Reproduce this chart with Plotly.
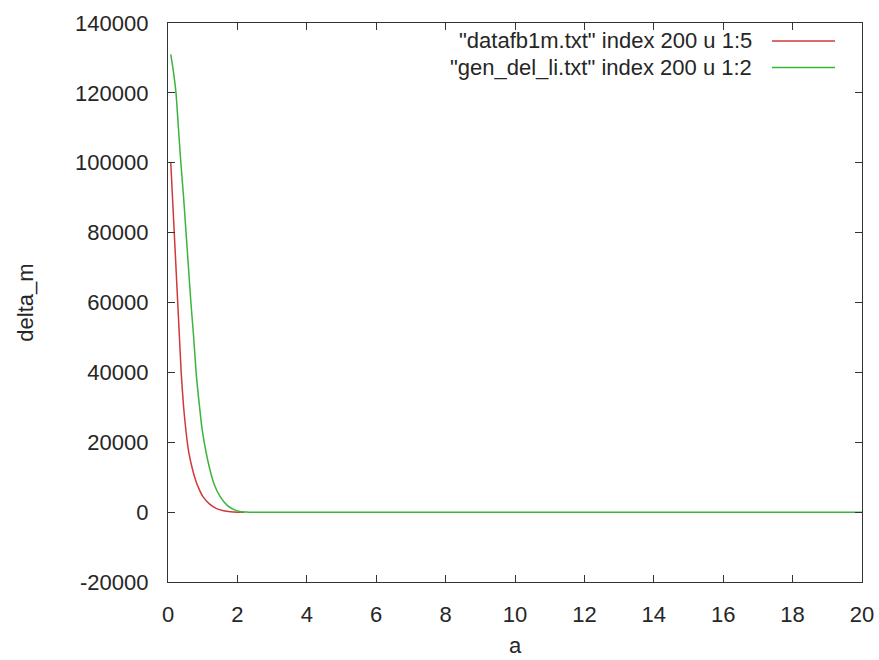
import plotly.graph_objects as go

# Series 1: "datafb1m.txt" index 200 u 1:5
red_x = [0.08, 0.12, 0.18, 0.23, 0.28, 0.33, 0.38, 0.45, 0.52, 0.60, 0.70, 0.80, 0.90, 1.00, 1.20, 1.40, 1.60, 1.80, 2.00, 2.20]
red_y = [100000, 92000, 80000, 70000, 60000, 50000, 40000, 30000, 23000, 17000, 12500, 9000, 6500, 4500, 2300, 1000, 400, 100, 0, 0]

# Series 2: "gen_del_li.txt" index 200 u 1:2
green_x = [0.08, 0.15, 0.23, 0.30, 0.37, 0.45, 0.52, 0.59, 0.66, 0.74, 0.81, 0.90, 0.98, 1.08, 1.20, 1.33, 1.50, 1.70, 1.90, 2.10, 2.30, 20.0]
green_y = [131000, 126500, 120000, 110000, 100000, 90000, 80000, 70000, 60000, 50000, 40000, 31000, 24000, 18000, 12500, 8000, 4500, 2000, 700, 100, 0, 0]

names = ['"datafb1m.txt" index 200 u 1:5', '"gen_del_li.txt" index 200 u 1:2']
colors = ["#d03a3a", "#3cb43c"]

x_ticks = list(range(0, 21, 2))
x_ticklabels = [str(v) for v in x_ticks]
y_ticks = list(range(-20000, 140001, 20000))
y_ticklabels = [str(v) for v in y_ticks]

FONT = "Liberation Sans"
TXT = "#262626"
FS = 22

fig = go.Figure()
fig.add_trace(go.Scatter(x=red_x, y=red_y, mode="lines", name=names[0],
                         line=dict(color=colors[0], width=1.5, shape="spline", smoothing=0.6)))
fig.add_trace(go.Scatter(x=green_x, y=green_y, mode="lines", name=names[1],
                         line=dict(color=colors[1], width=1.5, shape="spline", smoothing=0.6)))

axis_common = dict(showline=True, linecolor="#333333", linewidth=1.2, mirror="ticks",
                   ticks="inside", ticklen=7, tickcolor="#333333", tickwidth=1,
                   showgrid=False, zeroline=False, automargin=False,
                   tickfont=dict(family=FONT, size=FS, color=TXT))

fig.update_layout(
    width=879, height=660,
    margin=dict(l=168, r=17, t=23, b=78),
    paper_bgcolor="white", plot_bgcolor="white",
    showlegend=False,
    xaxis=dict(range=[0, 20], tickvals=x_ticks, ticktext=x_ticklabels, ticklabelstandoff=12,
               title=dict(text="a", font=dict(family=FONT, size=FS, color=TXT), standoff=12),
               **axis_common),
    yaxis=dict(range=[-20000, 140000], tickvals=y_ticks, ticktext=y_ticklabels, ticklabelstandoff=14,
               title=dict(text="delta_m", font=dict(family=FONT, size=FS, color=TXT), standoff=35),
               **axis_common),
)

# Gnuplot-style key: right-aligned text with line sample to its right
key_rows = [(1 - (41 - 23) / 559), (1 - (67.5 - 23) / 559)]
for name, col, yp in zip(names, colors, key_rows):
    fig.add_annotation(xref="paper", yref="paper", x=(754 - 168) / 694, y=yp,
                       xanchor="right", yanchor="middle", showarrow=False,
                       text=name, font=dict(family=FONT, size=FS, color=TXT))
    fig.add_shape(type="line", xref="paper", yref="paper",
                  x0=(772 - 168) / 694, x1=(835 - 168) / 694, y0=yp, y1=yp,
                  line=dict(color=col, width=1.5))

# remove the default page margin so the figure fills the window exactly
fig.write_html("out.html", config={"displayModeBar": False},
               post_script="document.body.style.margin='0';document.body.style.overflow='hidden';")
